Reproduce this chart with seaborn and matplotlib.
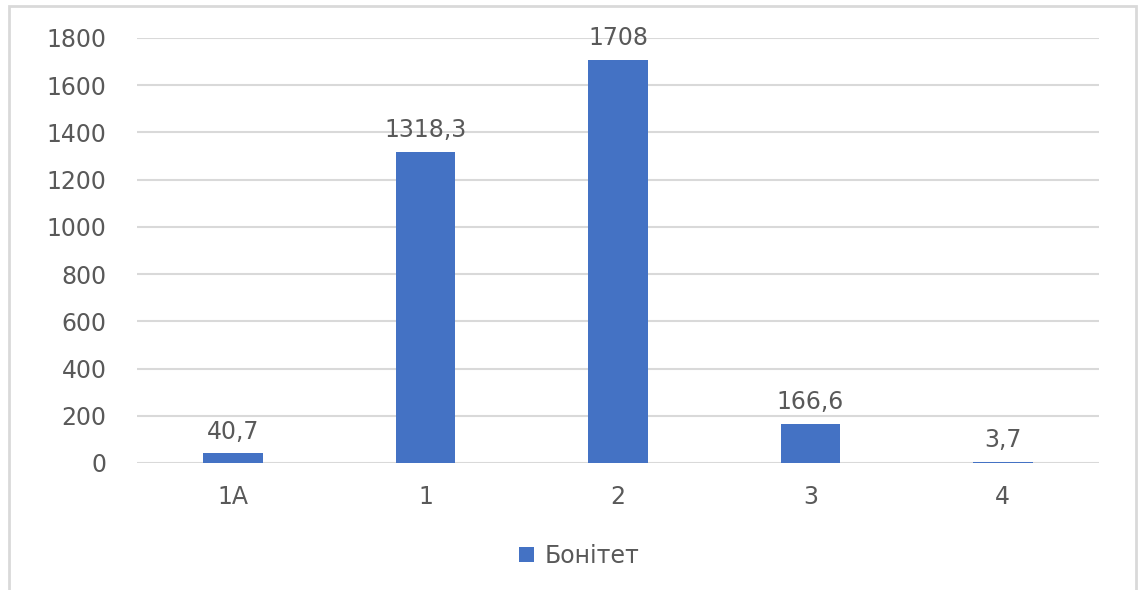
import matplotlib
matplotlib.use("Agg")
import matplotlib.pyplot as plt
import seaborn as sns
import pandas as pd
from matplotlib.patches import Rectangle

categories = ["1A", "1", "2", "3", "4"]
values = [40.7, 1318.3, 1708, 166.6, 3.7]
value_labels = ["40,7", "1318,3", "1708", "166,6", "3,7"]
series_name = "Бонітет"
y_ticks = [0, 200, 400, 600, 800, 1000, 1200, 1400, 1600, 1800]

sns.set_theme(style="white")
plt.rcParams["font.family"] = ["DejaVu Sans"]

text_color = "#595959"
bar_color = "#4472C4"
grid_color = "#D9D9D9"

df = pd.DataFrame({"cat": categories, "val": values, "series": series_name})

fig = plt.figure(figsize=(11.4, 5.9), dpi=100)
ax = fig.add_axes([0.1202, 0.2153, 0.8438, 0.7203])

sns.barplot(data=df, x="cat", y="val", hue="series", palette=[bar_color],
            width=0.31, ax=ax, saturation=1, legend=True, linewidth=0)

ax.set_ylim(0, 1800)
ax.set_yticks(y_ticks)
ax.set_xlim(-0.5, len(categories) - 0.5)
ax.yaxis.grid(True, color=grid_color, linewidth=1.5)
ax.set_axisbelow(True)
for s in ax.spines.values():
    s.set_visible(False)
ax.set_xlabel("")
ax.set_ylabel("")
ax.tick_params(axis="both", length=0, labelsize=17, colors=text_color)
ax.tick_params(axis="y", pad=22)
ax.tick_params(axis="x", pad=16)

for container in ax.containers:
    ax.bar_label(container, labels=value_labels, padding=7,
                 fontsize=17, color=text_color)

leg = ax.legend(loc="upper center", bbox_to_anchor=(0.46, -0.14), frameon=False,
                fontsize=17, handlelength=0.65, handleheight=0.65,
                handletextpad=0.45, labelcolor=text_color)

fig.patches.append(Rectangle((9 / 1140, -0.01), 1127 / 1140, 1 - 6 / 590 + 0.01,
                             transform=fig.transFigure, fill=False,
                             edgecolor=grid_color, linewidth=2))

fig.savefig("out.png", dpi=100, facecolor="white")
